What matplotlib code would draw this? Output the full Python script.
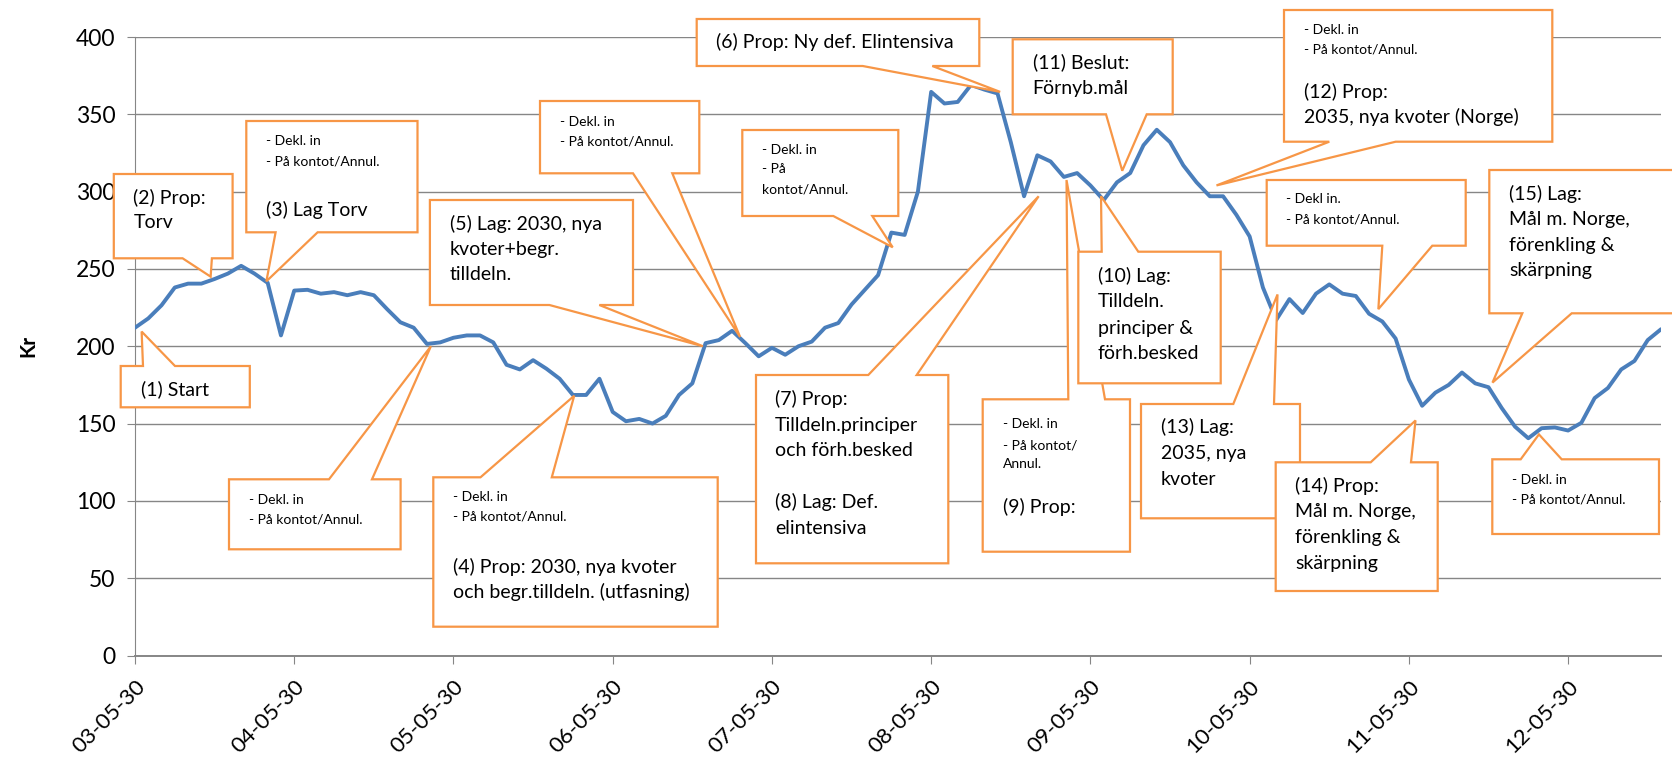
import numpy as np
import matplotlib
matplotlib.use("Agg")
from matplotlib import pyplot as plt
from matplotlib.patches import Polygon
from matplotlib.transforms import Affine2D

plt.rcParams["font.family"] = ["Lato", "DejaVu Sans"]

W, H = 1672, 757

# monthly price (Kr), first point 2003-05-30
price = [212, 218, 226.5, 238, 240.5, 240.5, 243.5, 247, 252, 247, 241, 207,
         236, 236.5, 234, 235, 233, 235, 233, 224, 215.5, 212, 201.5, 202.5,
         205.5, 207, 207, 202.5, 188, 185, 191, 185.5, 179, 168.5, 168.5, 179,
         157.5, 151.5, 153, 150, 155, 168.5, 176, 202, 204, 210, 202, 193.5,
         199, 194.5, 200, 203, 212, 215, 227, 236.5, 246, 273.5, 272, 300,
         364.5, 357, 358, 369, 366, 363.5, 332, 297, 323.5, 319.5, 309.5, 312,
         304, 294.5, 306, 312, 330, 340, 332, 317, 306, 297, 297, 285,
         271, 238, 217, 230.5, 221.5, 234, 240, 234, 232.5, 221, 216, 205,
         178.5, 161.5, 170, 175, 183, 176, 173.5, 160, 148, 140.5, 147, 147.5,
         145.5, 150.5, 166.5, 173, 185, 190.5, 204, 211]
months = np.arange(len(price))

tick_months = [0, 12, 24, 36, 48, 60, 72, 84, 96, 108]
tick_labels = ["03-05-30", "04-05-30", "05-05-30", "06-05-30", "07-05-30",
               "08-05-30", "09-05-30", "10-05-30", "11-05-30", "12-05-30"]
y_ticks = [0, 50, 100, 150, 200, 250, 300, 350, 400]

# callouts: box (left, top, right, bottom) in picture pixels, wedge edge,
# wedge base x-range, tip as (month, Kr), text lines (x, y, text, big?)
callouts = [
    ((120.7, 366, 249.8, 407.3), "top", (143, 175), (0.5, 209.5),
     [(140.6, 389, "(1) Start", True)]),
    ((113.8, 174, 232.6, 258.3), "bottom", (182.6, 211.9), (5.7, 245),
     [(133.4, 198, "(2) Prop:", True), (133.4, 223, "Torv", True)]),
    ((246.3, 121, 417.5, 232.3), "bottom", (275.6, 317.6), (9.9, 242),
     [(266, 141, "- Dekl. in", False), (266, 161, "- På kontot/Annul.", False),
      (266, 210, "(3) Lag Torv", True)]),
    ((229, 479.3, 400.6, 549.3), "top", (329, 372), (22.3, 200),
     [(248.8, 500, "- Dekl. in", False), (248.8, 519.3, "- På kontot/Annul.", False)]),
    ((433.3, 477.3, 717.7, 626.7), "top", (480.5, 551.8), (33.1, 168),
     [(453, 496.7, "- Dekl. in", False), (453, 516.7, "- På kontot/Annul.", False),
      (453, 566.7, "(4) Prop: 2030, nya kvoter", True),
      (453, 591.7, "och begr.tilldeln. (utfasning)", True)]),
    ((429.9, 200, 633, 305), "bottom", (549.4, 599.3), (42.8, 200),
     [(449.5, 224, "(5) Lag: 2030, nya", True), (449.5, 249.3, "kvoter+begr.", True),
      (449.5, 275, "tilldeln.", True)]),
    ((540, 101, 699.3, 173.3), "bottom", (633, 672.3), (45.6, 206),
     [(559.7, 122.3, "- Dekl. in", False), (559.7, 141.7, "- På kontot/Annul.", False)]),
    ((742.3, 130, 898.3, 216), "bottom", (833.3, 872.3), (57.1, 264),
     [(761.7, 150, "- Dekl. in", False), (761.7, 169.3, "- På", False),
      (761.7, 189, "kontot/Annul.", False)]),
    ((696.7, 19, 979.3, 66), "bottom", (862.7, 932.3), (65.2, 364.5),
     [(716, 41.7, "(6) Prop: Ny def. Elintensiva", True)]),
    ((756, 375, 948.3, 563.3), "top", (868.3, 916.7), (68.1, 297),
     [(775, 399, "(7) Prop:", True), (775, 425, "Tilldeln.principer", True),
      (775, 450, "och förh.besked", True), (775, 502.3, "(8) Lag: Def.", True),
      (775, 528.3, "elintensiva", True)]),
    ((982.7, 399.3, 1130, 551.7), "top", (1068.3, 1105), (70.2, 307.5),
     [(1002.7, 424, "- Dekl. in", False), (1002.7, 445.7, "- På kontot/", False),
      (1002.7, 464.3, "Annul.", False), (1002.7, 507.3, "(9) Prop:", True)]),
    ((1078.3, 251.7, 1220.7, 383.3), "top", (1101.7, 1138.3), (72.8, 297),
     [(1097.7, 276, "(10) Lag:", True), (1097.7, 301.7, "Tilldeln.", True),
      (1097.7, 328.3, "principer &", True), (1097.7, 353.3, "förh.besked", True)]),
    ((1012.7, 39.3, 1172.7, 114.3), "bottom", (1106, 1146.7), (74.4, 313.5),
     [(1032.7, 62.7, "(11) Beslut:", True), (1032.7, 88.3, "Förnyb.mål", True)]),
    ((1284, 10, 1552.3, 141.7), "bottom", (1329.3, 1395.7), (81.5, 304),
     [(1304, 30, "- Dekl. in", False), (1304, 49, "- På kontot/Annul.", False),
      (1304, 91.7, "(12) Prop:", True), (1304, 117.3, "2035, nya kvoter (Norge)", True)]),
    ((1266.7, 180, 1465.7, 245.7), "bottom", (1382.3, 1432.3), (93.7, 224),
     [(1286, 199.3, "- Dekl in.", False), (1286, 219, "- På kontot/Annul.", False)]),
    ((1141, 404, 1300, 518.3), "top", (1233.3, 1274), (86.1, 233.5),
     [(1161, 427.3, "(13) Lag:", True), (1161, 453.3, "2035, nya", True),
      (1161, 479.3, "kvoter", True)]),
    ((1275.7, 462.3, 1437.7, 591), "top", (1370.7, 1411), (96.5, 152),
     [(1295, 485.7, "(14) Prop:", True), (1295, 511.7, "Mål m. Norge,", True),
      (1295, 537.3, "förenkling &", True), (1295, 564, "skärpning", True)]),
    ((1489.3, 170, 1674, 313.3), "bottom", (1522.3, 1571.7), (102.3, 176.5),
     [(1509, 194, "(15) Lag:", True), (1509, 220, "Mål m. Norge,", True),
      (1509, 245, "förenkling &", True), (1509, 270.7, "skärpning", True)]),
    ((1492.3, 459.3, 1659, 534), "top", (1520.7, 1561.7), (105.8, 143),
     [(1511.7, 480, "- Dekl. in", False), (1511.7, 499.3, "- På kontot/Annul.", False)]),
]

fig = plt.figure(figsize=(W / 100, H / 100), dpi=100)
ax = fig.add_axes([135 / W, (H - 655.5) / H, 1526 / W, 618.5 / H])

ax.plot(months, price, color="#4A7EBB", lw=2.8, zorder=3,
        solid_joinstyle="round", solid_capstyle="round")

ax.set_xlim(0, 115)
ax.set_ylim(0, 400)
ax.set_yticks(y_ticks)
ax.set_xticks(tick_months, tick_labels, rotation=45, ha="right",
              rotation_mode="anchor")
ax.yaxis.grid(True, color="#868686", lw=1.0)
ax.set_axisbelow(True)
for side in ["top", "right"]:
    ax.spines[side].set_visible(False)
for side in ["left", "bottom"]:
    ax.spines[side].set_color("#868686")
ax.spines["bottom"].set_linewidth(1.4)
ax.tick_params(axis="both", color="#868686", length=6)
ax.tick_params(axis="y", labelsize=16.5, pad=8)
ax.tick_params(axis="x", labelsize=16, pad=9)
ax.set_ylabel("Kr", fontsize=15, fontweight="bold")
ax.yaxis.set_label_coords(-0.0633, 0.5)

# picture pixel coordinates (origin top left)
px = Affine2D().scale(1 / W, -1 / H).translate(0, 1) + fig.transFigure

for i, (box, edge, base, tip, lines) in enumerate(callouts):
    left, top, right, bottom = box
    tx, ty = px.inverted().transform(ax.transData.transform(tip))
    if edge == "top":
        verts = [(left, top), (base[0], top), (tx, ty), (base[1], top),
                 (right, top), (right, bottom), (left, bottom)]
    else:
        verts = [(left, top), (right, top), (right, bottom), (base[1], bottom),
                 (tx, ty), (base[0], bottom), (left, bottom)]
    ax.add_patch(Polygon(verts, closed=True, transform=px, clip_on=False,
                         facecolor="white", edgecolor="#F79646", lw=1.6,
                         joinstyle="miter", zorder=10 + 2 * i))
    for x, y, text, big in lines:
        ax.text(x, y, text, transform=px, fontsize=14 if big else 10,
                ha="left", va="center", color="black", zorder=11 + 2 * i,
                clip_on=False)

fig.savefig("out.png", dpi=100)
